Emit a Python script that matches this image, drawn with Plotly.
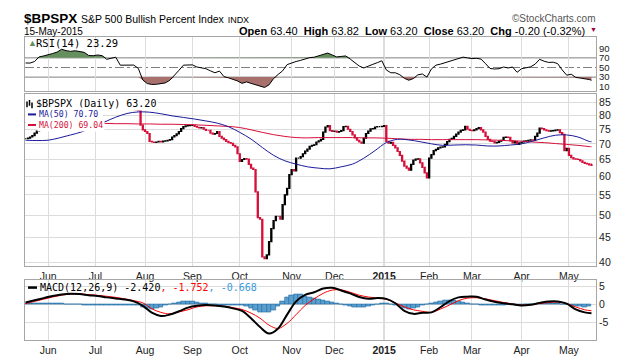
import math
import pandas as pd
import plotly.graph_objects as go

# ---------------- data ----------------
holidays = ["2014-05-26", "2014-07-04", "2014-09-01", "2014-11-27", "2014-12-25",
            "2015-01-01", "2015-01-19", "2015-02-16", "2015-04-03"]
sessions = pd.bdate_range("2014-05-16", "2015-05-15")
sessions = sessions[~sessions.isin(pd.to_datetime(holidays))]

# daily closes of $BPSPX
close = [
    71.7, 71.9, 72.3, 72.8, 73.6, 74.3, 74.6, 75.6, 76.8, 78.0,
    79.2, 80.4, 81.5, 82.6, 83.5, 84.3, 85.0, 85.4, 85.6, 85.3,
    85.5, 85.8, 86.0, 85.9, 85.8, 85.6, 85.5, 85.0, 84.3, 84.6,
    85.0, 85.3, 85.4, 85.2, 85.0, 84.9, 83.6, 84.3, 84.8, 85.0,
    85.2, 84.9, 82.6, 82.4, 82.4, 82.6, 82.4, 82.5, 82.3, 82.4,
    81.9, 76.5, 74.8, 74.2, 73.5, 70.8, 70.6, 70.5, 70.6, 70.8,
    70.6, 70.9, 71.0, 71.2, 71.4, 72.3, 72.8, 73.4, 74.2, 75.2,
    75.9, 76.2, 76.3, 76.4, 76.5, 76.0, 75.7, 75.5, 75.6, 75.0,
    74.6, 74.6, 73.6, 73.3, 73.5, 74.2, 72.5, 71.9, 71.4, 70.8,
    70.4, 70.2, 69.5, 69.0, 66.8, 64.4, 65.0, 65.3, 65.1, 63.5,
    62.4, 62.0, 55.8, 49.4, 49.0, 41.0, 40.7, 41.4, 44.1, 46.9,
    48.7, 49.7, 49.7, 49.0, 52.5, 55.0, 56.7, 60.5, 62.0, 61.6,
    65.4, 65.4, 65.9, 66.8, 67.6, 68.3, 69.2, 69.5, 69.7, 70.6,
    71.0, 71.5, 74.0, 75.8, 76.3, 74.5, 74.2, 74.3, 74.0, 74.2,
    74.5, 75.9, 76.0, 75.0, 74.2, 73.0, 72.0, 71.2, 70.6, 70.2,
    71.9, 73.5, 74.3, 75.1, 75.2, 75.8, 75.9, 75.9, 76.0, 76.3,
    70.8, 70.2, 70.5, 69.5, 68.7, 67.5, 66.3, 64.5, 63.0, 62.4,
    61.8, 63.5, 64.8, 65.1, 65.2, 64.0, 62.6, 61.0, 59.6, 65.4,
    66.5, 67.8, 68.2, 68.7, 68.9, 69.0, 69.8, 70.7, 71.5, 71.8,
    72.5, 73.3, 74.0, 74.6, 74.8, 76.0, 75.0, 74.6, 74.5, 74.8,
    75.2, 75.6, 74.8, 74.0, 72.5, 71.5, 70.9, 70.8, 70.3, 70.5,
    70.9, 71.2, 72.2, 72.3, 72.2, 71.0, 70.3, 70.8, 69.8, 70.3,
    70.6, 70.9, 71.0, 71.2, 71.3, 71.2, 72.5, 73.6, 75.4, 75.2,
    74.8, 74.5, 74.3, 74.4, 74.5, 74.7, 74.8, 73.8, 73.2, 67.8,
    68.5, 66.3, 65.6, 65.2, 65.1, 65.0, 64.6, 64.1, 63.8, 63.7,
    63.4, 63.2,
]
last_ohlc = [63.40, 63.82, 63.20, 63.20]

# moving averages, read every 5th session (+ last session)
ma50 = [71.2, 71.1, 71.2, 72.0, 73.0, 74.1, 75.8, 77.6, 79.4, 80.8,
        81.4, 81.3, 80.7, 79.9, 79.3, 78.7, 78.0, 77.2, 75.9, 73.9,
        71.6, 68.8, 66.3, 64.6, 63.6, 62.8, 62.4, 62.2, 62.8, 63.6,
        65.4, 67.8, 70.4, 71.5, 71.3, 70.7, 70.0, 69.5, 69.6, 69.7,
        69.6, 69.3, 69.3, 69.6, 70.0, 70.9, 72.0, 72.9, 73.0, 72.3,
        70.8, 70.70]
ma200 = [77.4, 77.4, 77.3, 77.3, 77.2, 77.2, 77.1, 77.1, 77.0, 77.0,
         76.9, 76.9, 76.8, 76.8, 76.7, 76.6, 76.4, 76.2, 76.0, 75.6,
         74.8, 73.9, 73.1, 72.5, 72.1, 72.0, 72.1, 72.1, 72.1, 72.1,
         72.0, 72.0, 71.9, 71.7, 71.5, 71.5, 71.4, 71.4, 71.4, 71.4,
         71.4, 71.3, 71.2, 71.0, 70.9, 70.6, 70.4, 70.1, 69.8, 69.5,
         69.1, 69.04]

# RSI(14), read every 2nd session (+ last session)
rsi14 = [59.4, 59.2, 62.5, 72, 74, 76, 79, 82, 88, 85,
         83.5, 84.8, 83, 81.5, 75, 74.5, 76, 74.5, 67, 70,
         71.4, 54.8, 54.6, 54.5, 55, 48, 24, 16.5, 14.8, 15,
         16, 18, 23.5, 33, 44, 54.8, 54.8, 55.5, 51, 49.5,
         47.5, 43, 39, 42.5, 31, 28.5, 26, 22, 17, 20,
         17, 14, 11.4, 8.5, 14, 27, 35.5, 43, 56, 60,
         62.5, 64.8, 68, 70.5, 71.4, 74, 77, 80, 76, 72,
         73, 74, 67.5, 60, 53, 49, 53.6, 56.5, 60, 64,
         45, 39, 39, 35, 27.5, 23.5, 27, 34.8, 36.5, 30,
         47, 54.8, 57, 60, 64, 66.5, 69, 71.5, 70, 68.5,
         69, 67.5, 58, 48, 46.8, 47.5, 51, 49, 51, 40,
         47.5, 49.5, 51.4, 57, 67, 63, 60.5, 61, 58, 45,
         34, 36, 29.4, 28, 26.8, 25, 23.29]

# MACD(12,26,9), read every 4th session (+ last session)
macd_line = [0.5, 1.1, 1.7, 2.3, 2.7, 2.9, 2.8, 2.5, 2.3, 1.9,
             1.6, 1.3, 0.8, -0.4, -2.3, -3.2, -2.8, -1.9, -0.9, -0.4,
             -0.2, -0.3, -0.6, -1.1, -1.8, -3.8, -6.2, -8.0, -6.6, -2.8,
             0.8, 2.6, 3.3, 4.3, 4.5, 3.8, 3.0, 2.0, 1.5, 1.7,
             1.5, 0.3, -1.8, -2.6, -2.3, -2.2, -0.8, 0.9, 1.9, 2.1,
             2.1, 1.3, 0.7, 0.3, 0.0, -0.3, -0.1, 0.4, 0.8, 0.8,
             0.2, -1.4, -2.2, -2.42]
macd_signal = [0.2, 0.8, 1.4, 2.0, 2.5, 2.8, 2.85, 2.65, 2.45, 2.2,
               1.9, 1.5, 1.0, 0.4, -1.2, -2.2, -2.6, -2.1, -1.5, -0.7,
               -0.4, -0.4, -0.5, -0.9, -1.4, -2.4, -3.8, -5.7, -6.6, -5.2,
               -2.8, -0.3, 1.5, 3.0, 3.9, 3.95, 3.3, 2.5, 2.0, 1.7,
               1.4, 0.4, -0.7, -1.5, -1.9, -2.2, -1.3, -0.2, 1.0, 1.7,
               1.8, 1.5, 1.0, 0.5, 0.1, -0.2, -0.1, 0.2, 0.5, 0.6,
               0.2, -0.7, -1.5, -1.752]
# MACD histogram, read every 2nd session
macd_hist = [0.3, 0.35, 0.4, 0.4, 0.4, 0.35, 0.3, 0.3, 0.2, 0.1,
             0.05, 0.0, -0.1, -0.2, -0.25, -0.25, -0.2, -0.25, -0.3, -0.3,
             -0.3, -0.3, -0.25, -0.2, -0.2, -0.3, -0.8, -1.2, -1.3, -1.1,
             -0.9, -0.4, -0.1, 0.3, 0.6, 0.8, 0.8, 0.7, 0.5, 0.3,
             0.2, 0.0, -0.1, -0.2, -0.2, -0.3, -0.3, -0.3, -0.4, -0.6,
             -1.2, -1.7, -2.1, -2.3, -2.3, -1.7, -0.6, 0.8, 1.8, 2.4,
             2.6, 2.6, 2.3, 2.0, 1.6, 1.3, 1.1, 0.9, 0.6, 0.3,
             0.0, -0.3, -0.5, -0.7, -0.8, -0.8, -0.6, -0.3, 0.0, 0.2,
             0.3, 0.1, -0.2, -0.6, -1.0, -1.3, -1.2, -0.8, -0.4, 0.0,
             0.3, 0.6, 0.8, 1.0, 1.1, 1.0, 0.9, 0.6, 0.4, 0.1,
             -0.1, -0.3, -0.4, -0.4, -0.4, -0.3, -0.2, -0.1, -0.1, -0.2,
             -0.2, -0.1, 0.0, 0.1, 0.3, 0.4, 0.3, 0.2, 0.2, 0.1,
             -0.1, -0.3, -0.5, -0.6, -0.7, -0.67]

main_ticks = [40, 45, 50, 55, 60, 65, 70, 75, 80, 85]
rsi_ticks = [10, 30, 50, 70, 90]
macd_ticks = [-5, 0, 5]

# ---------------- derived positions ----------------
n = len(sessions)
day = list(range(n))
open_ = [close[0]] + close[:-1]
high = [max(o, c) for o, c in zip(open_, close)]
low = [min(o, c) for o, c in zip(open_, close)]
open_[-1], high[-1], low[-1], _ = last_ohlc
rsi_x = list(range(0, n, 2)) + [n - 1]
ma_x = list(range(0, n, 5)) + [n - 1]
macd_x = list(range(0, n, 4)) + [n - 1]
hist_x = list(range(0, n, 2))

month_pos, month_txt = [], []
for k in range(1, n):
    if sessions[k].month != sessions[k - 1].month:
        month_pos.append(k)
        if sessions[k].month == 1:
            month_txt.append("<b>%d</b>" % sessions[k].year)
        else:
            month_txt.append(sessions[k].strftime("%b"))
year_pos = [p for p, t in zip(month_pos, month_txt) if t.startswith("<b>")]

# ---------------- styling ----------------
W, H = 620, 360
ML, MR, MT, MB = 17, 32, 29, 16
PW, PH = W - ML - MR, H - MT - MB
def fx(x):
    return (x - ML) / PW
def fy(y):
    return (H - MB - y) / PH

SANS = "Liberation Sans, Arial, sans-serif"
MONO = "DejaVu Sans Mono, monospace"
RED = "#d4103a"
NAVY = "#1a1a9a"
GRID = "#dcdcdc"
FRAME = "#a6a6a6"

fig = go.Figure()

# RSI panel
fig.add_trace(go.Scatter(x=rsi_x, y=[70] * len(rsi_x), mode="lines", line=dict(width=0),
                         xaxis="x", yaxis="y", hoverinfo="skip", showlegend=False))
fig.add_trace(go.Scatter(x=rsi_x, y=[max(v, 70) for v in rsi14], mode="lines", line=dict(width=0),
                         fill="tonexty", fillcolor="#658f5d", xaxis="x", yaxis="y",
                         hoverinfo="skip", showlegend=False))
fig.add_trace(go.Scatter(x=rsi_x, y=[30] * len(rsi_x), mode="lines", line=dict(width=0),
                         xaxis="x", yaxis="y", hoverinfo="skip", showlegend=False))
fig.add_trace(go.Scatter(x=rsi_x, y=[min(v, 30) for v in rsi14], mode="lines", line=dict(width=0),
                         fill="tonexty", fillcolor="#a8706c", xaxis="x", yaxis="y",
                         hoverinfo="skip", showlegend=False))
fig.add_trace(go.Scatter(x=rsi_x, y=rsi14, mode="lines", line=dict(color="black", width=1),
                         xaxis="x", yaxis="y", hoverinfo="skip", showlegend=False))

# Main panel
fig.add_trace(go.Scatter(x=ma_x, y=ma200, mode="lines", line=dict(color=RED, width=1, shape="spline"),
                         xaxis="x2", yaxis="y2", hoverinfo="skip", showlegend=False))
fig.add_trace(go.Scatter(x=ma_x, y=ma50, mode="lines", line=dict(color=NAVY, width=1, shape="spline"),
                         xaxis="x2", yaxis="y2", hoverinfo="skip", showlegend=False))
fig.add_trace(go.Candlestick(x=day, open=open_, high=high, low=low, close=close,
                             xaxis="x2", yaxis="y2", whiskerwidth=0,
                             increasing=dict(line=dict(color="black", width=1.2), fillcolor="black"),
                             decreasing=dict(line=dict(color=RED, width=1.2), fillcolor=RED),
                             hoverinfo="skip", showlegend=False))

# MACD panel
fig.add_trace(go.Bar(x=hist_x, y=macd_hist, width=2,
                     marker=dict(color="#5b9fcf", line=dict(color="#1f6aa0", width=0.6)),
                     xaxis="x3", yaxis="y3", hoverinfo="skip", showlegend=False))
fig.add_trace(go.Scatter(x=macd_x, y=macd_signal, mode="lines", line=dict(color="#ff0000", width=1, shape="spline"),
                         xaxis="x3", yaxis="y3", hoverinfo="skip", showlegend=False))
fig.add_trace(go.Scatter(x=macd_x, y=macd_line, mode="lines", line=dict(color="black", width=2, shape="spline"),
                         xaxis="x3", yaxis="y3", hoverinfo="skip", showlegend=False))

xcommon = dict(range=[-0.25, n + 1.0], tickmode="array", tickvals=month_pos, ticktext=month_txt,
               showgrid=True, gridcolor=GRID, gridwidth=1, zeroline=False, showline=True,
               linecolor=FRAME, linewidth=1, mirror=True, ticks="",
               tickfont=dict(size=10.5, color="#222", family=SANS),
               rangeslider=dict(visible=False), fixedrange=True)
ycommon = dict(side="right", showline=True, linecolor=FRAME, linewidth=1, mirror=True,
               ticks="", zeroline=False, tickfont=dict(size=10.5, color="#222", family=SANS),
               fixedrange=True, tickmode="array")

fig.update_layout(
    width=W, height=H, margin=dict(l=ML, r=MR, t=MT, b=MB),
    paper_bgcolor="white", plot_bgcolor="white", showlegend=False, bargap=0,
    xaxis=dict(xcommon, anchor="y", showticklabels=False),
    xaxis2=dict(xcommon, anchor="y2", matches="x", showticklabels=True),
    xaxis3=dict(xcommon, anchor="y3", matches="x", showticklabels=True),
    yaxis=dict(ycommon, domain=[fy(85), 1.0], range=[1.4, 113.4], tickvals=rsi_ticks,
               ticktext=[str(v) for v in rsi_ticks], showgrid=False,
               tickfont=dict(size=9.5, color="#222", family=SANS)),
    yaxis2=dict(ycommon, domain=[fy(267), fy(88)], type="log",
                range=[math.log10(39.3), math.log10(88.7)], tickvals=main_ticks,
                ticktext=[str(v) for v in main_ticks], showgrid=True, gridcolor=GRID),
    yaxis3=dict(ycommon, domain=[0, fy(282)], range=[-9.75, 6.55], tickvals=macd_ticks,
                ticktext=[str(v) for v in macd_ticks], showgrid=True, gridcolor=GRID),
)

shapes = []
# RSI reference levels
for lvl, dash in [(70, "solid"), (30, "solid"), (50, "dashdot")]:
    shapes.append(dict(type="line", xref="x domain", yref="y", x0=0, x1=1, y0=lvl, y1=lvl,
                       line=dict(color="#808080", width=1, dash=dash), layer="below"))
# year separator
for yp in year_pos:
    for xr, yr in [("x", "y domain"), ("x2", "y2 domain"), ("x3", "y3 domain")]:
        shapes.append(dict(type="line", xref=xr, yref=yr, x0=yp, x1=yp, y0=0, y1=1,
                           line=dict(color="#b4b4b4", width=1), layer="below"))
# legend backgrounds in main panel (they hide the lines under the legend)
shapes.append(dict(type="rect", xref="paper", yref="paper", x0=fx(17.6), x1=fx(150), y0=fy(102.5), y1=fy(88.6),
                   fillcolor="white", line=dict(width=0), layer="above"))
shapes.append(dict(type="rect", xref="paper", yref="paper", x0=fx(17.6), x1=fx(95), y0=fy(124), y1=fy(102.5),
                   fillcolor="white", line=dict(width=0), layer="above"))
# legend swatches
for (x0, x1, yy, col, w) in [(20, 28, 109.5, NAVY, 2), (20, 28, 120.5, RED, 2), (20, 29, 289.5, "black", 2.5)]:
    shapes.append(dict(type="line", xref="paper", yref="paper", x0=fx(x0), x1=fx(x1), y0=fy(yy), y1=fy(yy),
                       line=dict(color=col, width=w), layer="above"))
# tiny bar-chart icon
for (xx, ya, yb) in [(19, 96, 102), (21.5, 94.5, 100.5), (24, 97, 103)]:
    shapes.append(dict(type="line", xref="paper", yref="paper", x0=fx(xx), x1=fx(xx), y0=fy(yb), y1=fy(ya),
                       line=dict(color="black", width=1.5), layer="above"))
fig.update_layout(shapes=shapes)

def label(text, x, y, size=10, color="black", family=SANS, xanchor="left", bg=None):
    fig.add_annotation(text=text, x=fx(x), y=fy(y), xref="paper", yref="paper", xanchor=xanchor,
                       yanchor="middle", showarrow=False, borderpad=1,
                       bgcolor=bg if bg else "rgba(0,0,0,0)",
                       font=dict(size=size, color=color, family=family))

label("<b>$BPSPX</b> <span style='font-size:10.5px'>S&amp;P 500 Bullish Percent Index</span>"
      " <span style='font-size:9px'>INDX</span>", 14, 9.5, size=13.5)
label("15-May-2015", 14, 23.5, size=10)
label("<b>Open</b> 63.40&nbsp; <b>High</b> 63.82&nbsp; <b>Low</b> 63.20&nbsp; "
      "<b>Close</b> 63.20&nbsp; <b>Chg</b> -0.20 (-0.32%)", 579, 22.5, size=11, xanchor="right")
label("▼", 580, 21.5, size=7, color="#a0003c")
label("©StockCharts.com", 590, 10, size=10, color="#555", xanchor="right")

label("▲", 17.5, 35, size=9, color="#5f8f57")
label("RSI(14) 23.29", 26, 35, size=10.5, family=MONO)
label("$BPSPX (Daily) 63.20", 26, 98.5, size=10, family=MONO, bg="white")
label("MA(50) 70.70", 29, 109.5, size=8.2, color=NAVY, family=MONO, bg="white")
label("MA(200) 69.04", 29, 120.5, size=8.2, color=RED, family=MONO, bg="white")
label("MACD(12,26,9) -2.420<span style='color:#ff0000'>, -1.752</span>"
      "<span style='color:#3a9ad9'>, -0.668</span>", 30, 289.5, size=10, family=MONO)

fig.write_html("out.html")
